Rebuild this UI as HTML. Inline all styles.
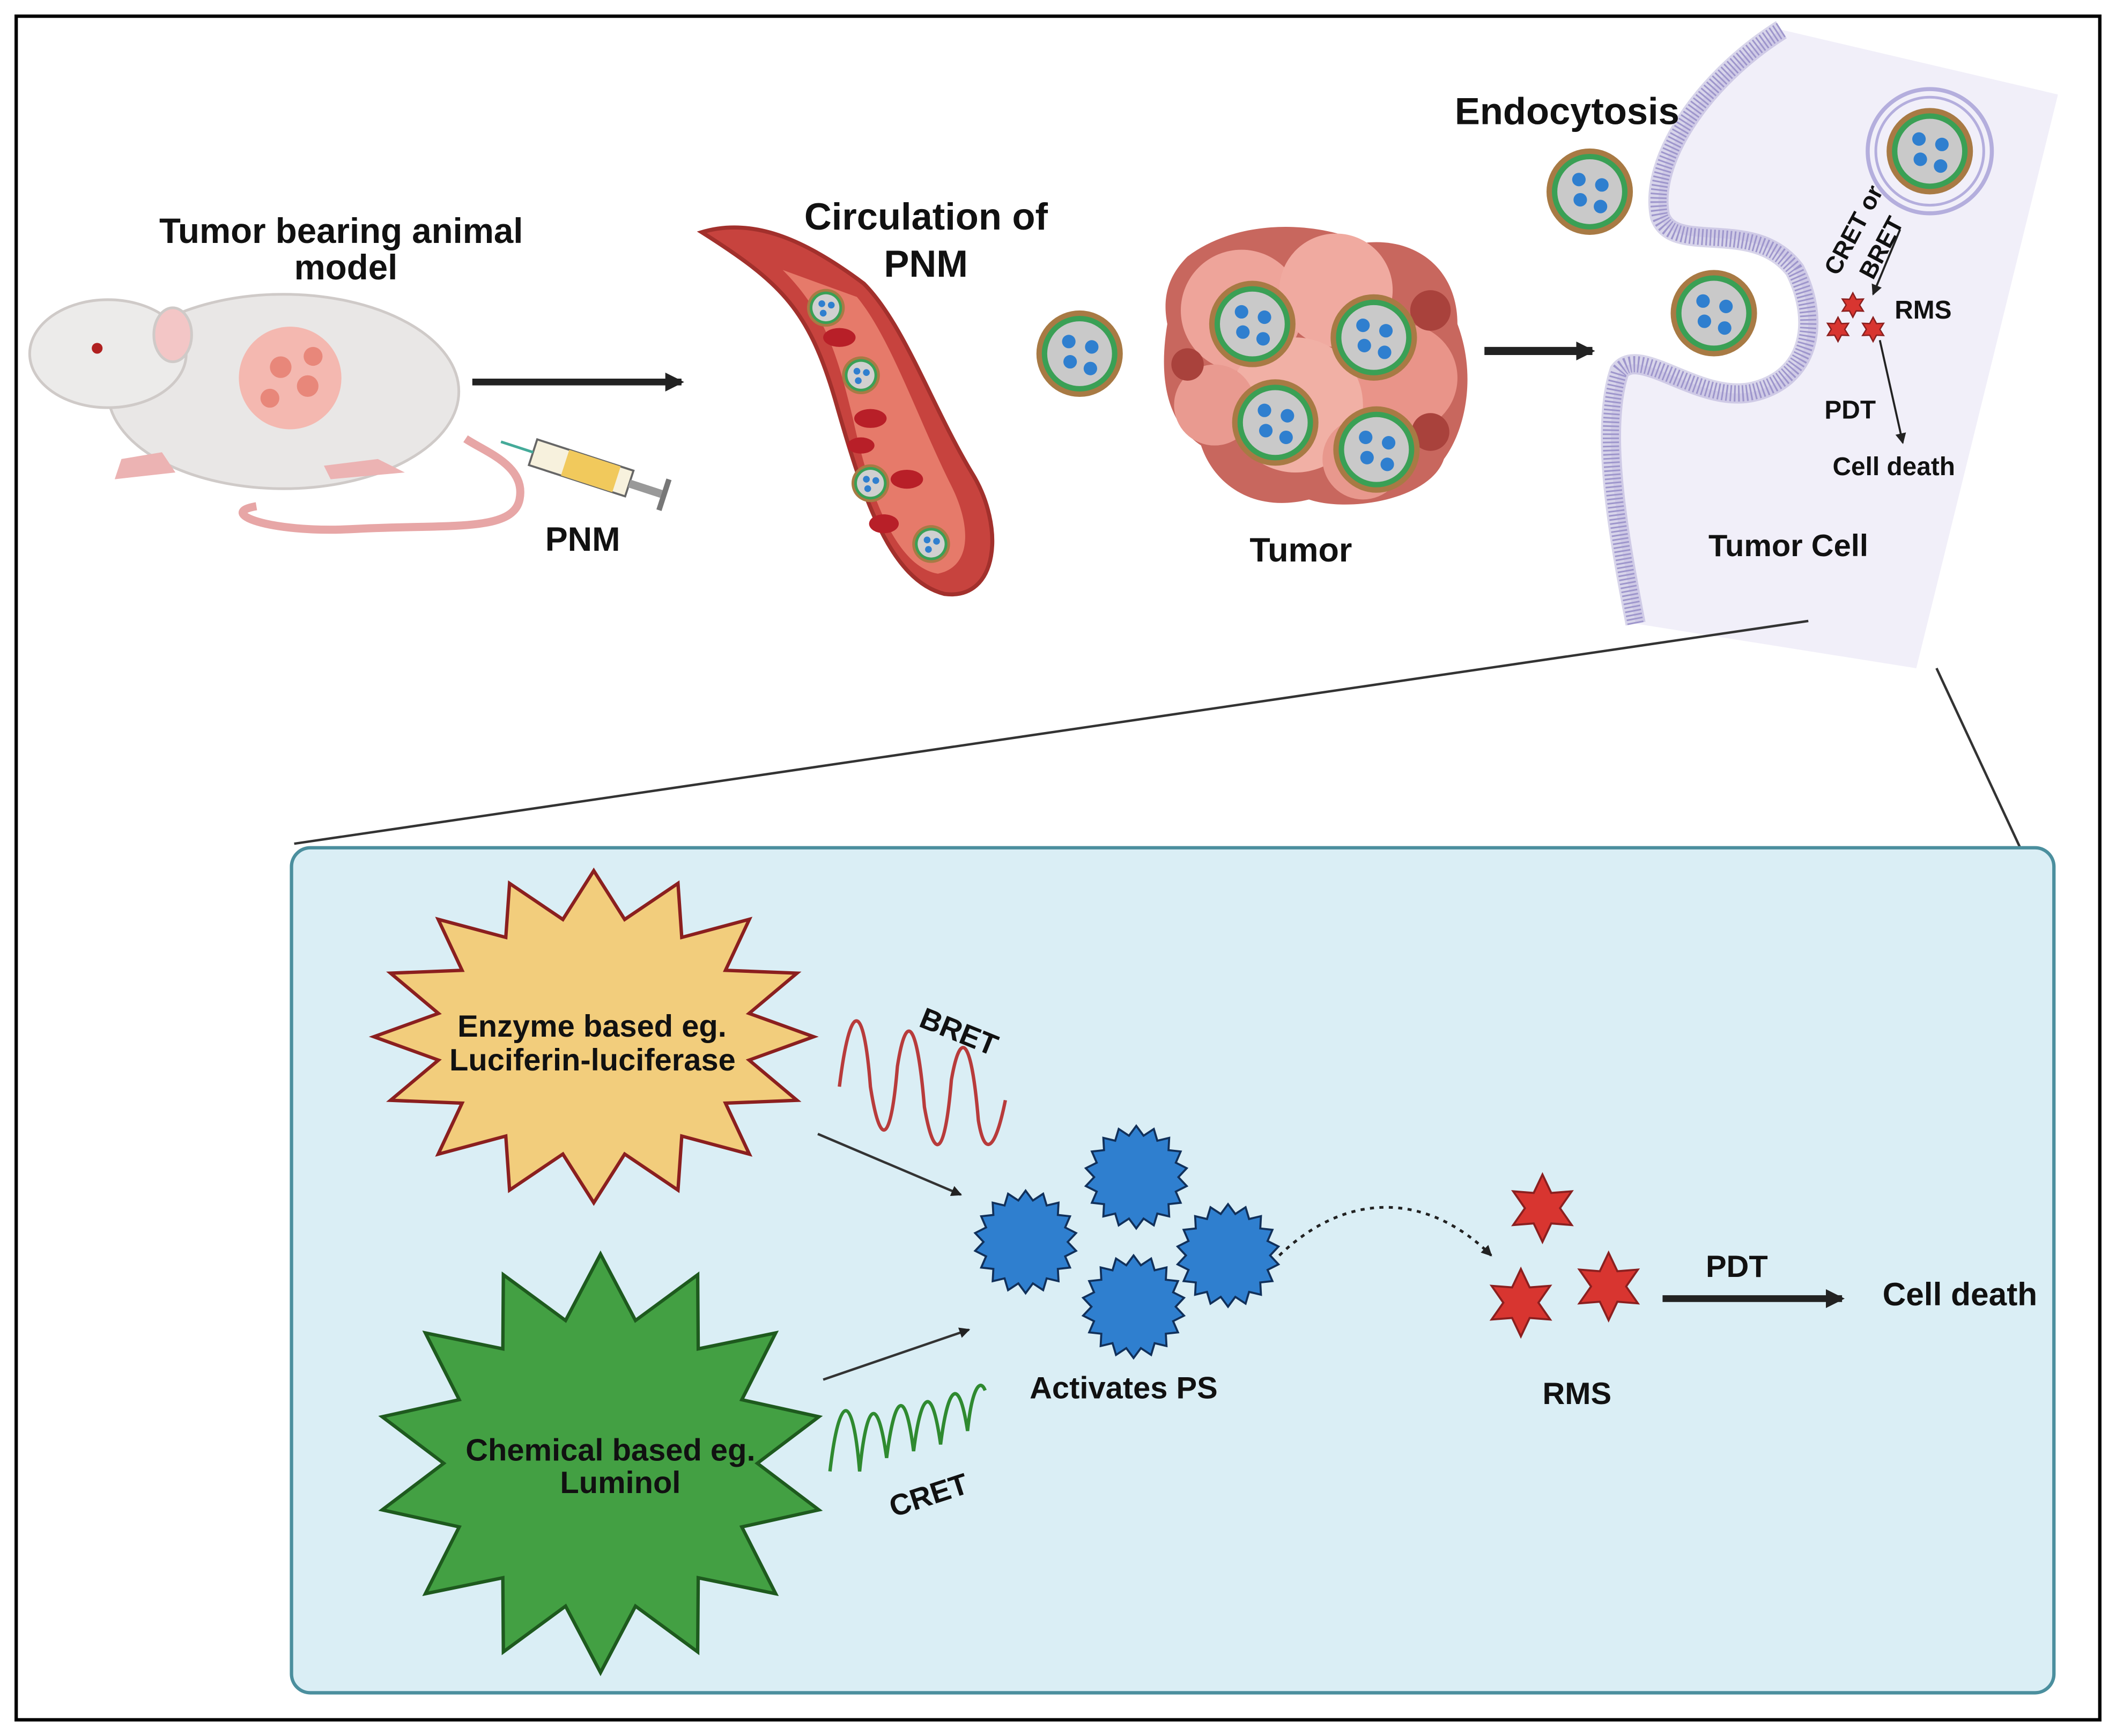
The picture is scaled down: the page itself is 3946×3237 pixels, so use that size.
<!DOCTYPE html>
<html><head><meta charset="utf-8"><style>
html,body{margin:0;padding:0;background:#fff}
svg{display:block}
text{font-family:"Liberation Sans",sans-serif;font-weight:bold;fill:#111}
</style></head><body>
<svg id="s" width="3946" height="3237" viewBox="0 0 1568 1286" preserveAspectRatio="none" xmlns="http://www.w3.org/2000/svg">
<defs>
<marker id="ah" markerWidth="8" markerHeight="8" refX="7" refY="4" orient="auto" markerUnits="userSpaceOnUse"><path d="M0,0 L8,4 L0,8z" fill="#222"/></marker>
<marker id="ab" markerWidth="14" markerHeight="14" refX="12" refY="7" orient="auto" markerUnits="userSpaceOnUse"><path d="M0,0 L14,7 L0,14z" fill="#222"/></marker>
<g id="np"><circle r="32" fill="#a87a44"/><circle r="28" fill="#3aa055"/><circle r="24" fill="#c9c9c9"/><circle cx="-8" cy="-9" r="5" fill="#2f7fcf"/><circle cx="9" cy="-5" r="5" fill="#2f7fcf"/><circle cx="-7" cy="6" r="5" fill="#2f7fcf"/><circle cx="8" cy="11" r="5" fill="#2f7fcf"/></g>
<g id="npS"><circle r="14" fill="#a87a44"/><circle r="12" fill="#3aa055"/><circle r="10" fill="#d0d0d0"/><circle cx="-3" cy="-3" r="2.5" fill="#2f7fcf"/><circle cx="4" cy="-2" r="2.5" fill="#2f7fcf"/><circle cx="-2" cy="4" r="2.5" fill="#2f7fcf"/></g>
</defs>
<rect x="0" y="0" width="1568" height="1286" fill="#fff"/>
<rect x="12" y="12" width="1544" height="1262" fill="none" stroke="#000" stroke-width="2.5"/>

<!-- tumor cell region -->
<path d="M1320,22 L1525,70 L1420,495 L1212,462 C1200,400 1185,320 1200,275 C1215,255 1260,300 1300,290 C1340,280 1350,240 1330,200 C1300,160 1240,190 1230,160 C1222,120 1260,60 1320,22Z" fill="#f1eff9"/>
<path d="M1320,22 C1260,60 1222,120 1230,160 C1240,190 1300,160 1330,200 C1350,240 1340,280 1300,290 C1260,300 1215,255 1200,275 C1185,320 1200,400 1212,462" fill="none" stroke="#a79fd2" stroke-width="12" stroke-dasharray="1.2 1.8"/>
<path d="M1320,22 C1260,60 1222,120 1230,160 C1240,190 1300,160 1330,200 C1350,240 1340,280 1300,290 C1260,300 1215,255 1200,275 C1185,320 1200,400 1212,462" fill="none" stroke="#8f86c4" stroke-width="15" stroke-opacity=".35"/>
<circle cx="1430" cy="112" r="46" fill="none" stroke="#b4aedd" stroke-width="3"/>
<circle cx="1430" cy="112" r="40" fill="none" stroke="#b4aedd" stroke-width="2"/>
<use href="#np" x="1430" y="112"/>
<use href="#np" x="1178" y="142"/>
<use href="#np" x="1270" y="232"/>
<line x1="1408" y1="170" x2="1388" y2="218" stroke="#222" stroke-width="1.5" marker-end="url(#ah)"/>
<text transform="translate(1362,205) rotate(-62)" font-size="18">CRET or</text>
<text transform="translate(1388,208) rotate(-62)" font-size="18">BRET</text>
<text x="1404" y="236" font-size="19">RMS</text>
<text x="1352" y="310" font-size="19">PDT</text>
<text x="1358" y="352" font-size="19">Cell death</text>
<line x1="1393" y1="252" x2="1410" y2="328" stroke="#222" stroke-width="1.5" marker-end="url(#ah)"/>
<text x="1266" y="412" font-size="23">Tumor Cell</text>
<text x="1078" y="92" font-size="28">Endocytosis</text>

<line x1="218" y1="625" x2="1340" y2="460" stroke="#333" stroke-width="1.8"/>
<line x1="1435" y1="495" x2="1497" y2="628" stroke="#333" stroke-width="1.8"/>

<!-- mouse -->
<g>
<path d="M190,375 C160,380 200,395 260,392 C330,388 380,395 385,370 C390,345 360,335 345,325" fill="none" stroke="#e7a6a6" stroke-width="6"/>
<ellipse cx="210" cy="290" rx="130" ry="72" fill="#e9e7e6" stroke="#cfcac8" stroke-width="2"/>
<ellipse cx="80" cy="262" rx="58" ry="40" fill="#ecebea" stroke="#cfcac8" stroke-width="2"/>
<ellipse cx="128" cy="248" rx="14" ry="20" fill="#f3c6c6" stroke="#cfcac8" stroke-width="2"/>
<circle cx="72" cy="258" r="4" fill="#b02020"/>
<circle cx="215" cy="280" r="38" fill="#f4b8b0"/>
<circle cx="208" cy="272" r="8" fill="#e8877a"/><circle cx="228" cy="286" r="8" fill="#e8877a"/><circle cx="200" cy="295" r="7" fill="#e8877a"/><circle cx="232" cy="264" r="7" fill="#e8877a"/>
<path d="M90,340 l30,-5 10,15 -45,5z M240,345 l40,-5 20,10 -55,5z" fill="#ecb3b3"/>
<g transform="translate(395,335) rotate(18)"><rect x="0" y="-10" width="75" height="20" fill="#f7f1dd" stroke="#666" stroke-width="1.5"/><rect x="25" y="-10" width="40" height="20" fill="#f1c95c"/><line x1="-25" y1="0" x2="0" y2="0" stroke="#4a9" stroke-width="2"/><rect x="75" y="-3" width="25" height="6" fill="#999"/><rect x="100" y="-12" width="4" height="24" fill="#777"/></g>
</g>
<text x="118" y="180" font-size="26">Tumor bearing animal</text>
<text x="218" y="207" font-size="26">model</text>
<text x="404" y="408" font-size="25">PNM</text>
<line x1="350" y1="283" x2="505" y2="283" stroke="#222" stroke-width="5" marker-end="url(#ab)"/>

<!-- vessel -->
<path d="M520,172 C580,210 600,230 620,300 C640,370 660,430 700,440 C740,445 745,390 720,350 C690,300 670,240 640,210 C600,180 560,160 520,172Z" fill="#c7433e" stroke="#a2302c" stroke-width="3"/>
<path d="M580,200 C610,230 620,260 632,310 C645,370 665,420 695,425 C720,420 720,390 705,360 C680,310 660,250 635,220Z" fill="#e67a6a"/>
<g fill="#b81f28"><ellipse cx="622" cy="250" rx="12" ry="7"/><ellipse cx="645" cy="310" rx="12" ry="7"/><ellipse cx="638" cy="330" rx="10" ry="6"/><ellipse cx="672" cy="355" rx="12" ry="7"/><ellipse cx="655" cy="388" rx="11" ry="7"/></g>
<use href="#npS" x="612" y="228"/><use href="#npS" x="638" y="278"/><use href="#npS" x="645" y="358"/><use href="#npS" x="690" y="403"/>
<text x="596" y="170" font-size="28">Circulation of</text>
<text x="655" y="205" font-size="28">PNM</text>
<use href="#np" x="800" y="262"/>

<!-- tumor -->
<g>
<path d="M880,190 C920,160 980,165 1010,180 C1050,175 1080,200 1080,240 C1095,280 1085,320 1070,340 C1060,370 1000,380 970,370 C930,380 900,360 890,330 C860,310 860,270 865,240 C860,215 870,200 880,190Z" fill="#c8675e"/>
<circle cx="920" cy="230" r="45" fill="#eea49a"/><circle cx="990" cy="215" r="42" fill="#f0aaa0"/><circle cx="1040" cy="280" r="40" fill="#e99489"/><circle cx="960" cy="300" r="50" fill="#f1b0a5"/><circle cx="900" cy="300" r="30" fill="#e99a90"/><circle cx="1010" cy="340" r="30" fill="#e8988d"/>
<circle cx="1060" cy="230" r="15" fill="#a9423c"/><circle cx="880" cy="270" r="12" fill="#a9423c"/><circle cx="1060" cy="320" r="14" fill="#a9423c"/>
</g>
<use href="#np" x="928" y="240"/><use href="#np" x="1018" y="250"/><use href="#np" x="945" y="313"/><use href="#np" x="1020" y="333"/>
<text x="926" y="416" font-size="25">Tumor</text>
<line x1="1100" y1="260" x2="1180" y2="260" stroke="#222" stroke-width="6" marker-end="url(#ab)"/>

<!-- bottom panel -->
<rect x="216" y="628" width="1306" height="626" rx="14" fill="#daeef5" stroke="#4b8f9e" stroke-width="2.5"/>
<g id="stars"></g>
<text x="339" y="768" font-size="23">Enzyme  based eg.</text>
<text x="333" y="793" font-size="23">Luciferin-luciferase</text>
<text x="345" y="1082" font-size="23">Chemical based eg.</text>
<text x="415" y="1106" font-size="23">Luminol</text>
<path d="M622,805 C630,740 640,740 645,805 C652,850 660,850 665,790 C672,745 680,760 685,820 C692,860 700,860 705,800 C712,760 720,770 725,830 C730,860 738,850 745,815" fill="none" stroke="#b83b3b" stroke-width="2.5"/>
<text transform="translate(680,760) rotate(22)" font-size="22">BRET</text>
<path d="M615,1090 C622,1030 632,1030 637,1090 C642,1040 650,1030 657,1080 C662,1040 670,1020 677,1075 C682,1035 690,1020 697,1070 C702,1030 710,1015 717,1060 C720,1030 726,1020 730,1030" fill="none" stroke="#2f8a30" stroke-width="2.5"/>
<text transform="translate(662,1124) rotate(-18)" font-size="22">CRET</text>
<line x1="606" y1="840" x2="712" y2="885" stroke="#333" stroke-width="1.8" marker-end="url(#ah)"/>
<line x1="610" y1="1022" x2="718" y2="985" stroke="#333" stroke-width="1.8" marker-end="url(#ah)"/>
<text x="763" y="1036" font-size="23">Activates PS</text>
<path d="M948,930 C1000,880 1060,885 1105,930" fill="none" stroke="#222" stroke-width="2" stroke-dasharray="3 4" marker-end="url(#ah)"/>
<text x="1143" y="1040" font-size="23">RMS</text>
<text x="1264" y="946" font-size="23">PDT</text>
<line x1="1232" y1="962" x2="1365" y2="962" stroke="#222" stroke-width="5" marker-end="url(#ab)"/>
<text x="1395" y="967" font-size="24">Cell death</text>
</svg>
<script>
function star(cx,cy,n,rx,ry,k,fill,stroke,sw){
 var p=[];for(var i=0;i<2*n;i++){var f=i%2?k:1;var a=-Math.PI/2+i*Math.PI/n;p.push((cx+rx*f*Math.cos(a)).toFixed(1)+","+(cy+ry*f*Math.sin(a)).toFixed(1));}
 return '<polygon points="'+p.join(" ")+'" fill="'+fill+'" stroke="'+stroke+'" stroke-width="'+sw+'"/>';}
var h="";
h+=star(440,768,16,163,123,0.72,"#f2cd7c","#8b1f1f",2.5);
h+=star(445,1084,14,166,155,0.7,"#43a043","#1e5a1e",2.5);
[[760,920],[842,872],[910,930],[840,968]].forEach(function(c){h+=star(c[0],c[1],18,38,38,0.82,"#2f7fcf","#11305a",1.5);});
[[1143,895],[1127,965],[1192,953]].forEach(function(c){h+=star(c[0],c[1],6,25,25,0.52,"#d83530","#8b1f1f",1.5);});
[[1373,226],[1362,244],[1388,244]].forEach(function(c){h+=star(c[0],c[1],6,9,9,0.55,"#d83530","#8b1f1f",1);});
document.getElementById("stars").innerHTML=h;
</script>
</body></html>
